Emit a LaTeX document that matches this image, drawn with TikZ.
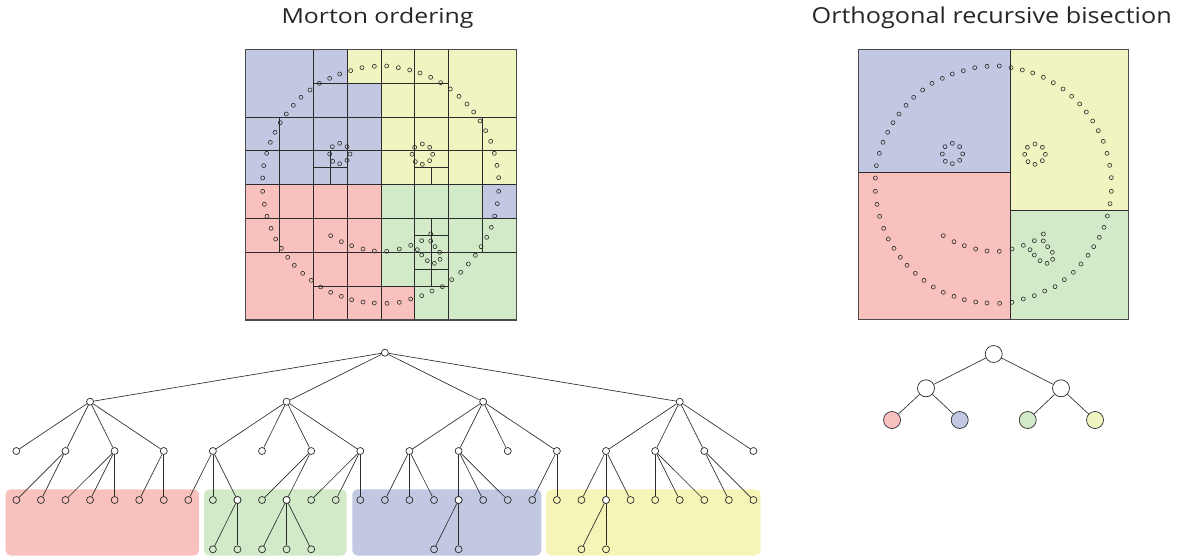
\documentclass[tikz,border=0pt]{standalone}
\usepackage{fontspec}
\setmainfont{Open Sans}
\definecolor{cred}{HTML}{F8C1BD}
\definecolor{cgreen}{HTML}{D2EAC8}
\definecolor{cblue}{HTML}{C2C8E2}
\definecolor{cyellow}{HTML}{F0F4C0}
\definecolor{cyellowb}{HTML}{F5F5B8}
\definecolor{ln}{HTML}{2B2B2B}
\def\pts{76/414,79/377,88/340,99/307,113/277,129/248,147/222,168/196,191/172,218/150,246/130,277/115,307/102,340/92,374/83,411/79,448/78,483/83,517/90,548/99,580/112,610/128,639/147,665/169,689/192,709/216,728/243,745/272,760/304,771/340,779/376,784/413,784/454,780/491,772/528,762/562,748/592,731/620,714/646,693/672,670/697,643/719,615/740,584/753,553/767,520/777,486/787,449/790,411/789,377/786,343/779,312/769,280/757,250/741,222/721,196/700,171/676,151/652,132/625,115/597,101/565,89/529,81/493,76/454,280/587,312/605,343/617,377/627,411/633,448/634,486/627,520/616,540/629,553/645,570/662,591/670,608/658,607/637,593/620,580/603,580/582,553/602,307/310,329/320,338/342,329/361,307/371,286/364,277/342,285/320,555/312,577/322,586/343,577/362,555/373,534/365,524/343,532/322}
\begin{document}
\begin{tikzpicture}[x=1pt,y=-1pt,
 grid/.style={draw=ln, line width=0.95pt},
 border/.style={draw=ln!85, line width=1.1pt},
 dot/.style={draw=ln, line width=0.6pt},
 tn/.style={circle, draw=ln, fill=white, line width=0.7pt, minimum size=7pt, inner sep=0pt},
 tl/.style={circle, draw=ln, line width=0.7pt, minimum size=7pt, inner sep=0pt},
 edge/.style={draw=ln, line width=0.65pt},
 on/.style={circle, draw=ln, line width=0.7pt, minimum size=17pt, inner sep=0pt},
 title/.style={font=\fontsize{22}{26}\selectfont, anchor=base, text=black!85, inner sep=0pt}]
\useasboundingbox (0,0) rectangle (1178,556);

% titles
\node[title] (t1) at (377.5,23.3) {\resizebox{192pt}{15.7pt}{\vphantom{M}Morton ordering}};
\node[title] (t2) at (991.7,23.3) {\scalebox{1.145}[1]{Orthogonal recursive bisection}};

% Morton grid
\begin{scope}[shift={(245.67pt,-49.33pt)}, x=33.83pt, y=-33.83pt]
 \fill[cblue] (0,0) rectangle (4,4);
 \fill[cyellow] (4,0) rectangle (8,4);
 \fill[cred] (0,4) rectangle (4,8);
 \fill[cgreen] (4,4) rectangle (8,8);
 \fill[cyellow] (3,0) rectangle (4,1);
 \fill[cblue] (7,4) rectangle (8,5);
 \fill[cred] (4,7) rectangle (5,8);
 \draw[grid] (1,2)--(1,6) (2,0)--(2,8) (2.5,3)--(2.5,4) (3,0)--(3,8) (4,0)--(4,8)
   (5,0)--(5,8) (5.5,3.5)--(5.5,4) (5.5,5)--(5.5,7) (6,0)--(6,8) (7,2)--(7,6);
 \draw[grid] (2,1)--(6,1) (0,2)--(8,2) (0,3)--(8,3) (2,3.5)--(3,3.5) (5,3.5)--(6,3.5)
   (0,4)--(8,4) (0,5)--(8,5) (5,5.5)--(6,5.5) (0,6)--(8,6) (5,6.5)--(6,6.5) (2,7)--(6,7);
 \draw[border] (0,0) rectangle (8,8);
\end{scope}
\begin{scope}[shift={(245.67pt,-49.33pt)}]
 \foreach \a/\b in \pts \draw[dot] ({(\a-25)/3},{(\b-28)/3}) circle (2pt);
\end{scope}

% ORB panel
\begin{scope}[shift={(858.33pt,-49.33pt)}]
 \fill[cblue] (0,0) rectangle (152,122.7);
 \fill[cred] (0,122.7) rectangle (152,270.6);
 \fill[cyellow] (152,0) rectangle (270.6,161);
 \fill[cgreen] (152,161) rectangle (270.6,270.6);
 \draw[grid] (152,0)--(152,270.6) (0,122.7)--(152,122.7) (152,161)--(270.6,161);
 \draw[border] (0,0) rectangle (270.6,270.6);
 \foreach \a/\b in \pts \draw[dot] ({(\a-25)/3},{(\b-28)/3}) circle (2pt);
\end{scope}

% Morton tree boxes
\fill[cred, rounded corners=5pt] (5.7,489.3) rectangle (199,555.5);
\fill[cgreen, rounded corners=5pt] (204,489.3) rectangle (346.7,555.5);
\fill[cblue, rounded corners=5pt] (352.3,489.3) rectangle (541.3,555.5);
\fill[cyellowb, rounded corners=5pt] (546,489.3) rectangle (760.7,555.5);

% Morton tree nodes
\node[tn] (r) at ({16.33+24.57*15},352.7) {};
\foreach \k [count=\i] in {3,11,19,27} \node[tn] (a\i) at ({16.33+24.57*\k},401.7) {};
\foreach \k in {0,2,...,30} \node[tn] (b\k) at ({16.33+24.57*\k},451) {};
\foreach \k in {0,...,30} \node[tl] (c\k) at ({16.33+24.57*\k},500) {};
\foreach \k in {9,11,18,24} \node[tn] at (c\k) {};
\foreach \k in {8,9,10,11,12,17,18,23,24} \node[tl] (d\k) at ({16.33+24.57*\k},549.3) {};

% Morton tree edges
\foreach \i in {1,...,4} \draw[edge] (r)--(a\i);
\foreach \k in {0,2,4,6} \draw[edge] (a1)--(b\k);
\foreach \k in {8,10,12,14} \draw[edge] (a2)--(b\k);
\foreach \k in {16,18,20,22} \draw[edge] (a3)--(b\k);
\foreach \k in {24,26,28,30} \draw[edge] (a4)--(b\k);
\foreach \p/\c in {2/0,2/1,4/2,4/3,4/4,6/5,6/6,8/7,8/8,8/9,12/10,12/11,14/12,14/13,14/14,16/15,16/16,16/17,18/18,18/19,18/20,22/21,22/22,24/23,24/24,24/25,26/26,26/27,26/28,28/29,28/30}
  \draw[edge] (b\p)--(c\c);
\foreach \p/\c in {9/8,9/9,11/10,11/11,11/12,18/17,18/18,24/23,24/24}
  \draw[edge] (c\p)--(d\c);

% ORB tree
\node[on, fill=white] (o) at (993.7,354) {};
\node[on, fill=white] (o1) at (926,388.3) {};
\node[on, fill=white] (o2) at (1061,388.3) {};
\node[on, fill=cred] (o11) at (892,420) {};
\node[on, fill=cblue] (o12) at (959.7,420) {};
\node[on, fill=cgreen] (o21) at (1027.7,420) {};
\node[on, fill=cyellow] (o22) at (1095,420) {};
\draw[edge] (o)--(o1) (o)--(o2) (o1)--(o11) (o1)--(o12) (o2)--(o21) (o2)--(o22);
\end{tikzpicture}
\end{document}
